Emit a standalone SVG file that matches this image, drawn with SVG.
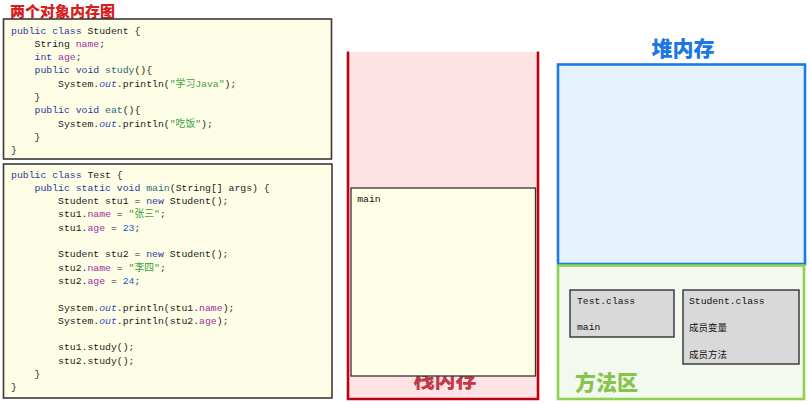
<svg xmlns="http://www.w3.org/2000/svg" width="810" height="404" viewBox="0 0 810 404">
<style>
.code{font-family:"Liberation Mono","DejaVu Sans Mono","Noto Sans CJK SC",monospace;font-size:9.8px;fill:#222}
.k{fill:#2B3A9A}
.f{fill:#9B2D9F}
.o{fill:#2F4CBF;font-style:italic}
.s{fill:#3C9F45}
.n{fill:#2F55D4}
.m{fill:#1F6B78}
.box{fill:#FEFEE6;stroke:#3A3A3A;stroke-width:1.6}
.gray{fill:#D9D9D9;stroke:#333;stroke-width:1.4}
.small{font-family:"Liberation Mono","DejaVu Sans Mono",monospace;font-size:9.7px;fill:#111}
.cjk{font-family:"Noto Sans CJK SC","Noto Sans",sans-serif;font-size:9.5px;fill:#111}
.title{font-family:"Noto Sans CJK SC",sans-serif;font-weight:900}
</style>
<rect width="810" height="404" fill="#FFFFFF"/>
<text class="title" x="10" y="17.4" font-size="15" fill="#D42020">两个对象内存图</text>

<g id="code-student">
<rect class="box" x="3.5" y="19" width="328" height="140"/>
<text class="code" x="11" y="33.5"><tspan class="k">public class</tspan> Student {</text>
<text class="code" x="34.5" y="46.8">String <tspan class="f">name</tspan>;</text>
<text class="code" x="34.5" y="60.1"><tspan class="k">int</tspan> <tspan class="f">age</tspan>;</text>
<text class="code" x="34.5" y="73.4"><tspan class="k">public void</tspan> <tspan class="m">study</tspan>(){</text>
<text class="code" x="58" y="86.7">System.<tspan class="o">out</tspan>.println(<tspan class="s">"学习Java"</tspan>);</text>
<text class="code" x="34.5" y="100">}</text>
<text class="code" x="34.5" y="113.3"><tspan class="k">public void</tspan> <tspan class="m">eat</tspan>(){</text>
<text class="code" x="58" y="126.6">System.<tspan class="o">out</tspan>.println(<tspan class="s">"吃饭"</tspan>);</text>
<text class="code" x="34.5" y="139.9">}</text>
<text class="code" x="11" y="153.2">}</text>
</g>

<g id="code-test">
<rect class="box" x="3.5" y="164" width="328.5" height="234"/>
<text class="code" x="11" y="177.5"><tspan class="k">public class</tspan> Test {</text>
<text class="code" x="34.5" y="190.8"><tspan class="k">public static void</tspan> <tspan class="m">main</tspan>(String[] args) {</text>
<text class="code" x="58" y="204.1">Student stu1 = <tspan class="k">new</tspan> Student();</text>
<text class="code" x="58" y="217.4">stu1.<tspan class="f">name</tspan> = <tspan class="s">"张三"</tspan>;</text>
<text class="code" x="58" y="230.7">stu1.<tspan class="f">age</tspan> = <tspan class="n">23</tspan>;</text>
<text class="code" x="58" y="257.3">Student stu2 = <tspan class="k">new</tspan> Student();</text>
<text class="code" x="58" y="270.6">stu2.<tspan class="f">name</tspan> = <tspan class="s">"李四"</tspan>;</text>
<text class="code" x="58" y="283.9">stu2.<tspan class="f">age</tspan> = <tspan class="n">24</tspan>;</text>
<text class="code" x="58" y="310.5">System.<tspan class="o">out</tspan>.println(stu1.<tspan class="f">name</tspan>);</text>
<text class="code" x="58" y="323.8">System.<tspan class="o">out</tspan>.println(stu2.<tspan class="f">age</tspan>);</text>
<text class="code" x="58" y="350.4">stu1.study();</text>
<text class="code" x="58" y="363.7">stu2.study();</text>
<text class="code" x="34.5" y="377">}</text>
<text class="code" x="11" y="390.3">}</text>
</g>

<g id="stack">
<rect x="348" y="52" width="190" height="347" fill="#FDE3E4"/>
<path d="M348 51.5 V399 H538 V51.5" fill="none" stroke="#C00010" stroke-width="2.6"/>
<text class="title" x="445" y="387" font-size="21" fill="#C0394B" text-anchor="middle">栈内存</text>
</g>

<g id="stack-main">
<rect x="351" y="188" width="184.5" height="188" fill="#FFFFE8" stroke="#333" stroke-width="1.3"/>
<text class="small" x="357.3" y="202">main</text>
</g>

<g id="heap">
<text class="title" x="683" y="56" font-size="21" fill="#1A78E0" text-anchor="middle">堆内存</text>
<rect x="558" y="64.5" width="247" height="199.5" fill="#E6F2FE" stroke="#1E7BE6" stroke-width="2.6"/>
</g>

<g id="method-area">
<rect x="558" y="265.5" width="246" height="133.5" fill="#F3F9EE" stroke="#8FD14F" stroke-width="2.6"/>
<text class="title" x="575" y="390" font-size="21" fill="#86C54A">方法区</text>
</g>

<g id="test-class">
<rect class="gray" x="570" y="290" width="104" height="47"/>
<text class="small" x="577" y="304">Test.class</text>
<text class="small" x="577" y="329.5">main</text>
</g>

<g id="student-class">
<rect class="gray" x="683" y="290" width="116" height="74"/>
<text class="small" x="689" y="304">Student.class</text>
<text class="cjk" x="689" y="330.5">成员变量</text>
<text class="cjk" x="689" y="357.5">成员方法</text>
</g>

<g id="connectors"/>
</svg>
